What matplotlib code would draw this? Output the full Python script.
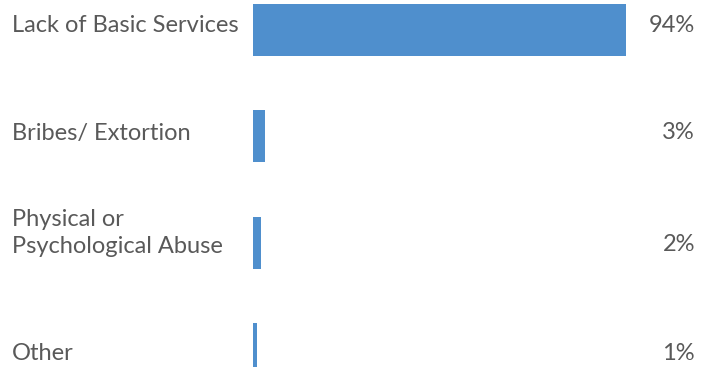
import matplotlib.pyplot as plt

# data
categories = ["Lack of Basic Services", "Bribes/ Extortion", "Physical or\nPsychological Abuse", "Other"]
values = [94, 3, 2, 1]
value_labels = ["94%", "3%", "2%", "1%"]

BAR_COLOR = "#4F8FCD"
TEXT_COLOR = "#595959"
plt.rcParams["font.family"] = ["Lato", "DejaVu Sans"]

fig = plt.figure(figsize=(7.13, 3.67), dpi=100)
ax = fig.add_axes([0, 0, 1, 1])

ypos = list(range(len(categories)))
ax.barh(ypos, values, height=0.49, color=BAR_COLOR)

# pixel mapping: bar start at 253px, 100% at ~650px; bar centres 30px + 106.3px*i
px_per_unit = (650 - 253) / 100
ax.set_xlim(-253 / px_per_unit, (713 - 253) / px_per_unit)
ax.set_ylim((367 - 30) / 106.3, -30 / 106.3)

# small vertical nudges so text sits where it does in the original slide
cat_dy = [-0.04, -0.03, -0.09, 0.04]
val_dy = [-0.04, -0.04, 0.02, 0.04]

for y, cat, lab, cdy, vdy in zip(ypos, categories, value_labels, cat_dy, val_dy):
    ax.text(12 / 713, y + cdy, cat, transform=ax.get_yaxis_transform(),
            ha="left", va="center", fontsize=17, color=TEXT_COLOR, linespacing=1.3)
    ax.text(695 / 713, y + vdy, lab, transform=ax.get_yaxis_transform(),
            ha="right", va="center", fontsize=17, color=TEXT_COLOR)

ax.axis("off")
fig.savefig("out.png", dpi=100)
